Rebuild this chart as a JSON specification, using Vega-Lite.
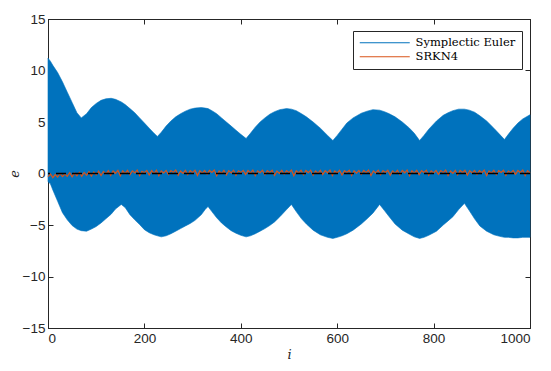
{
  "$schema": "https://vega.github.io/schema/vega-lite/v6.json",
  "width": 482,
  "height": 309,
  "autosize": {"type": "none"},
  "padding": {"left": 48, "top": 19, "right": 21, "bottom": 43},
  "background": "white",
  "config": {
    "view": {"stroke": "#262626", "strokeWidth": 1},
    "axis": {
      "grid": false,
      "domainColor": "#262626",
      "tickColor": "#262626",
      "labelColor": "#262626",
      "labelFont": "Liberation Sans",
      "labelFontSize": 13.5,
      "titleFont": "DejaVu Serif",
      "titleFontStyle": "italic",
      "titleFontWeight": "normal",
      "titleFontSize": 13,
      "titleColor": "#262626",
      "tickSize": -5,
      "labelPadding": 8,
      "format": "d"
    }
  },
  "datasets": {
    "euler": [
      {"i":0,"hi":11.2,"lo":-0.8,"s":"Symplectic Euler"},
      {"i":5,"hi":10.9,"lo":-1.0,"s":"Symplectic Euler"},
      {"i":10,"hi":10.5,"lo":-1.6,"s":"Symplectic Euler"},
      {"i":20,"hi":9.8,"lo":-2.7,"s":"Symplectic Euler"},
      {"i":30,"hi":8.9,"lo":-3.8,"s":"Symplectic Euler"},
      {"i":40,"hi":7.9,"lo":-4.5,"s":"Symplectic Euler"},
      {"i":50,"hi":6.9,"lo":-5.05,"s":"Symplectic Euler"},
      {"i":60,"hi":5.9,"lo":-5.4,"s":"Symplectic Euler"},
      {"i":69,"hi":5.4,"lo":-5.55,"s":"Symplectic Euler"},
      {"i":80,"hi":5.8,"lo":-5.6,"s":"Symplectic Euler"},
      {"i":90,"hi":6.4,"lo":-5.4,"s":"Symplectic Euler"},
      {"i":100,"hi":6.8,"lo":-5.15,"s":"Symplectic Euler"},
      {"i":110,"hi":7.1,"lo":-4.8,"s":"Symplectic Euler"},
      {"i":120,"hi":7.25,"lo":-4.4,"s":"Symplectic Euler"},
      {"i":131,"hi":7.3,"lo":-3.95,"s":"Symplectic Euler"},
      {"i":140,"hi":7.2,"lo":-3.45,"s":"Symplectic Euler"},
      {"i":152,"hi":6.95,"lo":-3.0,"s":"Symplectic Euler"},
      {"i":160,"hi":6.7,"lo":-3.3,"s":"Symplectic Euler"},
      {"i":170,"hi":6.3,"lo":-4.0,"s":"Symplectic Euler"},
      {"i":180,"hi":5.9,"lo":-4.5,"s":"Symplectic Euler"},
      {"i":190,"hi":5.4,"lo":-4.95,"s":"Symplectic Euler"},
      {"i":200,"hi":4.9,"lo":-5.45,"s":"Symplectic Euler"},
      {"i":210,"hi":4.4,"lo":-5.75,"s":"Symplectic Euler"},
      {"i":220,"hi":3.9,"lo":-5.95,"s":"Symplectic Euler"},
      {"i":227,"hi":3.6,"lo":-6.05,"s":"Symplectic Euler"},
      {"i":235,"hi":4.0,"lo":-6.15,"s":"Symplectic Euler"},
      {"i":245,"hi":4.6,"lo":-6.05,"s":"Symplectic Euler"},
      {"i":255,"hi":5.1,"lo":-5.85,"s":"Symplectic Euler"},
      {"i":265,"hi":5.5,"lo":-5.6,"s":"Symplectic Euler"},
      {"i":275,"hi":5.8,"lo":-5.35,"s":"Symplectic Euler"},
      {"i":285,"hi":6.05,"lo":-5.1,"s":"Symplectic Euler"},
      {"i":295,"hi":6.25,"lo":-4.85,"s":"Symplectic Euler"},
      {"i":305,"hi":6.35,"lo":-4.55,"s":"Symplectic Euler"},
      {"i":318,"hi":6.4,"lo":-4.0,"s":"Symplectic Euler"},
      {"i":326,"hi":6.35,"lo":-3.5,"s":"Symplectic Euler"},
      {"i":332,"hi":6.3,"lo":-3.2,"s":"Symplectic Euler"},
      {"i":340,"hi":6.1,"lo":-3.7,"s":"Symplectic Euler"},
      {"i":350,"hi":5.8,"lo":-4.3,"s":"Symplectic Euler"},
      {"i":360,"hi":5.4,"lo":-4.8,"s":"Symplectic Euler"},
      {"i":370,"hi":5.0,"lo":-5.2,"s":"Symplectic Euler"},
      {"i":380,"hi":4.6,"lo":-5.55,"s":"Symplectic Euler"},
      {"i":390,"hi":4.2,"lo":-5.8,"s":"Symplectic Euler"},
      {"i":400,"hi":3.8,"lo":-6.0,"s":"Symplectic Euler"},
      {"i":411,"hi":3.4,"lo":-6.15,"s":"Symplectic Euler"},
      {"i":420,"hi":3.9,"lo":-6.05,"s":"Symplectic Euler"},
      {"i":430,"hi":4.5,"lo":-5.85,"s":"Symplectic Euler"},
      {"i":440,"hi":5.0,"lo":-5.6,"s":"Symplectic Euler"},
      {"i":450,"hi":5.4,"lo":-5.35,"s":"Symplectic Euler"},
      {"i":460,"hi":5.75,"lo":-5.05,"s":"Symplectic Euler"},
      {"i":470,"hi":6.0,"lo":-4.7,"s":"Symplectic Euler"},
      {"i":481,"hi":6.2,"lo":-4.2,"s":"Symplectic Euler"},
      {"i":495,"hi":6.3,"lo":-3.5,"s":"Symplectic Euler"},
      {"i":505,"hi":6.25,"lo":-3.0,"s":"Symplectic Euler"},
      {"i":515,"hi":6.1,"lo":-3.7,"s":"Symplectic Euler"},
      {"i":526,"hi":5.8,"lo":-4.4,"s":"Symplectic Euler"},
      {"i":536,"hi":5.5,"lo":-4.9,"s":"Symplectic Euler"},
      {"i":550,"hi":5.0,"lo":-5.5,"s":"Symplectic Euler"},
      {"i":565,"hi":4.4,"lo":-5.95,"s":"Symplectic Euler"},
      {"i":580,"hi":3.7,"lo":-6.2,"s":"Symplectic Euler"},
      {"i":591,"hi":3.2,"lo":-6.3,"s":"Symplectic Euler"},
      {"i":600,"hi":3.7,"lo":-6.2,"s":"Symplectic Euler"},
      {"i":610,"hi":4.3,"lo":-6.05,"s":"Symplectic Euler"},
      {"i":620,"hi":4.9,"lo":-5.85,"s":"Symplectic Euler"},
      {"i":633,"hi":5.4,"lo":-5.5,"s":"Symplectic Euler"},
      {"i":650,"hi":5.85,"lo":-4.9,"s":"Symplectic Euler"},
      {"i":662,"hi":6.05,"lo":-4.4,"s":"Symplectic Euler"},
      {"i":674,"hi":6.2,"lo":-3.85,"s":"Symplectic Euler"},
      {"i":688,"hi":6.15,"lo":-3.0,"s":"Symplectic Euler"},
      {"i":698,"hi":6.0,"lo":-3.6,"s":"Symplectic Euler"},
      {"i":708,"hi":5.8,"lo":-4.2,"s":"Symplectic Euler"},
      {"i":720,"hi":5.5,"lo":-4.9,"s":"Symplectic Euler"},
      {"i":735,"hi":5.0,"lo":-5.5,"s":"Symplectic Euler"},
      {"i":750,"hi":4.4,"lo":-5.9,"s":"Symplectic Euler"},
      {"i":760,"hi":3.9,"lo":-6.15,"s":"Symplectic Euler"},
      {"i":771,"hi":3.2,"lo":-6.3,"s":"Symplectic Euler"},
      {"i":780,"hi":3.7,"lo":-6.2,"s":"Symplectic Euler"},
      {"i":790,"hi":4.3,"lo":-6.0,"s":"Symplectic Euler"},
      {"i":806,"hi":5.1,"lo":-5.6,"s":"Symplectic Euler"},
      {"i":820,"hi":5.65,"lo":-5.0,"s":"Symplectic Euler"},
      {"i":830,"hi":5.9,"lo":-4.6,"s":"Symplectic Euler"},
      {"i":840,"hi":6.1,"lo":-4.2,"s":"Symplectic Euler"},
      {"i":852,"hi":6.25,"lo":-3.5,"s":"Symplectic Euler"},
      {"i":864,"hi":6.25,"lo":-2.9,"s":"Symplectic Euler"},
      {"i":874,"hi":6.15,"lo":-3.6,"s":"Symplectic Euler"},
      {"i":885,"hi":5.95,"lo":-4.4,"s":"Symplectic Euler"},
      {"i":896,"hi":5.6,"lo":-5.1,"s":"Symplectic Euler"},
      {"i":910,"hi":5.1,"lo":-5.6,"s":"Symplectic Euler"},
      {"i":925,"hi":4.4,"lo":-5.95,"s":"Symplectic Euler"},
      {"i":937,"hi":3.8,"lo":-6.1,"s":"Symplectic Euler"},
      {"i":947,"hi":3.3,"lo":-6.2,"s":"Symplectic Euler"},
      {"i":955,"hi":3.8,"lo":-6.2,"s":"Symplectic Euler"},
      {"i":965,"hi":4.4,"lo":-6.25,"s":"Symplectic Euler"},
      {"i":975,"hi":4.9,"lo":-6.25,"s":"Symplectic Euler"},
      {"i":985,"hi":5.3,"lo":-6.2,"s":"Symplectic Euler"},
      {"i":1000,"hi":5.7,"lo":-6.2,"s":"Symplectic Euler"}
    ],
    "srkn": [
      {"i":0,"e":-0.30,"s":"SRKN4"},{"i":5,"e":-0.05,"s":"SRKN4"},{"i":10,"e":-0.40,"s":"SRKN4"},{"i":15,"e":-0.10,"s":"SRKN4"},
      {"i":20,"e":-0.35,"s":"SRKN4"},{"i":25,"e":0.02,"s":"SRKN4"},{"i":30,"e":-0.30,"s":"SRKN4"},{"i":35,"e":-0.05,"s":"SRKN4"},
      {"i":40,"e":-0.28,"s":"SRKN4"},{"i":45,"e":0.08,"s":"SRKN4"},{"i":50,"e":-0.32,"s":"SRKN4"},{"i":55,"e":0.05,"s":"SRKN4"},
      {"i":60,"e":-0.22,"s":"SRKN4"},{"i":65,"e":0.12,"s":"SRKN4"},{"i":70,"e":-0.28,"s":"SRKN4"},{"i":75,"e":0.10,"s":"SRKN4"},
      {"i":80,"e":-0.18,"s":"SRKN4"},{"i":85,"e":0.18,"s":"SRKN4"},{"i":90,"e":-0.25,"s":"SRKN4"},{"i":95,"e":0.15,"s":"SRKN4"},
      {"i":100,"e":-0.12,"s":"SRKN4"},{"i":105,"e":0.22,"s":"SRKN4"},{"i":110,"e":-0.20,"s":"SRKN4"},{"i":115,"e":0.20,"s":"SRKN4"},
      {"i":120,"e":-0.05,"s":"SRKN4"},{"i":125,"e":0.28,"s":"SRKN4"},{"i":130,"e":-0.18,"s":"SRKN4"},{"i":135,"e":0.24,"s":"SRKN4"},
      {"i":140,"e":0.02,"s":"SRKN4"},{"i":145,"e":0.30,"s":"SRKN4"},{"i":150,"e":-0.22,"s":"SRKN4"},{"i":155,"e":0.25,"s":"SRKN4"},
      {"i":160,"e":-0.02,"s":"SRKN4"},{"i":165,"e":0.30,"s":"SRKN4"},{"i":170,"e":-0.12,"s":"SRKN4"},{"i":175,"e":0.26,"s":"SRKN4"},
      {"i":180,"e":0.05,"s":"SRKN4"},{"i":185,"e":0.32,"s":"SRKN4"},{"i":190,"e":-0.20,"s":"SRKN4"},{"i":195,"e":0.22,"s":"SRKN4"},
      {"i":200,"e":0.08,"s":"SRKN4"},{"i":205,"e":0.30,"s":"SRKN4"},{"i":210,"e":-0.15,"s":"SRKN4"},{"i":215,"e":0.28,"s":"SRKN4"},
      {"i":220,"e":0.00,"s":"SRKN4"},{"i":225,"e":0.32,"s":"SRKN4"},{"i":230,"e":-0.22,"s":"SRKN4"},{"i":235,"e":0.25,"s":"SRKN4"},
      {"i":240,"e":0.06,"s":"SRKN4"},{"i":245,"e":0.30,"s":"SRKN4"},{"i":250,"e":-0.10,"s":"SRKN4"},{"i":255,"e":0.28,"s":"SRKN4"},
      {"i":260,"e":0.10,"s":"SRKN4"},{"i":265,"e":0.33,"s":"SRKN4"},{"i":270,"e":-0.18,"s":"SRKN4"},{"i":275,"e":0.24,"s":"SRKN4"},
      {"i":280,"e":0.02,"s":"SRKN4"},{"i":285,"e":0.31,"s":"SRKN4"},{"i":290,"e":-0.12,"s":"SRKN4"},{"i":295,"e":0.27,"s":"SRKN4"},
      {"i":300,"e":0.08,"s":"SRKN4"},{"i":305,"e":0.32,"s":"SRKN4"},{"i":310,"e":-0.20,"s":"SRKN4"},{"i":315,"e":0.26,"s":"SRKN4"},
      {"i":320,"e":0.04,"s":"SRKN4"},{"i":325,"e":0.30,"s":"SRKN4"},{"i":330,"e":-0.08,"s":"SRKN4"},{"i":335,"e":0.29,"s":"SRKN4"},
      {"i":340,"e":0.10,"s":"SRKN4"},{"i":345,"e":0.33,"s":"SRKN4"},{"i":350,"e":-0.22,"s":"SRKN4"},{"i":355,"e":0.24,"s":"SRKN4"},
      {"i":360,"e":0.00,"s":"SRKN4"},{"i":365,"e":0.31,"s":"SRKN4"},{"i":370,"e":-0.14,"s":"SRKN4"},{"i":375,"e":0.28,"s":"SRKN4"},
      {"i":380,"e":0.06,"s":"SRKN4"},{"i":385,"e":0.32,"s":"SRKN4"},{"i":390,"e":-0.18,"s":"SRKN4"},{"i":395,"e":0.26,"s":"SRKN4"},
      {"i":400,"e":0.09,"s":"SRKN4"},{"i":405,"e":0.30,"s":"SRKN4"},{"i":410,"e":-0.10,"s":"SRKN4"},{"i":415,"e":0.29,"s":"SRKN4"},
      {"i":420,"e":0.03,"s":"SRKN4"},{"i":425,"e":0.33,"s":"SRKN4"},{"i":430,"e":-0.21,"s":"SRKN4"},{"i":435,"e":0.25,"s":"SRKN4"},
      {"i":440,"e":0.07,"s":"SRKN4"},{"i":445,"e":0.31,"s":"SRKN4"},{"i":450,"e":-0.13,"s":"SRKN4"},{"i":455,"e":0.27,"s":"SRKN4"},
      {"i":460,"e":0.10,"s":"SRKN4"},{"i":465,"e":0.32,"s":"SRKN4"},{"i":470,"e":-0.19,"s":"SRKN4"},{"i":475,"e":0.24,"s":"SRKN4"},
      {"i":480,"e":0.01,"s":"SRKN4"},{"i":485,"e":0.30,"s":"SRKN4"},{"i":490,"e":-0.09,"s":"SRKN4"},{"i":495,"e":0.28,"s":"SRKN4"},
      {"i":500,"e":0.08,"s":"SRKN4"},{"i":505,"e":0.33,"s":"SRKN4"},{"i":510,"e":-0.22,"s":"SRKN4"},{"i":515,"e":0.26,"s":"SRKN4"},
      {"i":520,"e":0.05,"s":"SRKN4"},{"i":525,"e":0.31,"s":"SRKN4"},{"i":530,"e":-0.12,"s":"SRKN4"},{"i":535,"e":0.29,"s":"SRKN4"},
      {"i":540,"e":0.09,"s":"SRKN4"},{"i":545,"e":0.32,"s":"SRKN4"},{"i":550,"e":-0.17,"s":"SRKN4"},{"i":555,"e":0.25,"s":"SRKN4"},
      {"i":560,"e":0.02,"s":"SRKN4"},{"i":565,"e":0.30,"s":"SRKN4"},{"i":570,"e":-0.11,"s":"SRKN4"},{"i":575,"e":0.28,"s":"SRKN4"},
      {"i":580,"e":0.07,"s":"SRKN4"},{"i":585,"e":0.33,"s":"SRKN4"},{"i":590,"e":-0.20,"s":"SRKN4"},{"i":595,"e":0.24,"s":"SRKN4"},
      {"i":600,"e":0.06,"s":"SRKN4"},{"i":605,"e":0.31,"s":"SRKN4"},{"i":610,"e":-0.14,"s":"SRKN4"},{"i":615,"e":0.27,"s":"SRKN4"},
      {"i":620,"e":0.10,"s":"SRKN4"},{"i":625,"e":0.32,"s":"SRKN4"},{"i":630,"e":-0.18,"s":"SRKN4"},{"i":635,"e":0.26,"s":"SRKN4"},
      {"i":640,"e":0.03,"s":"SRKN4"},{"i":645,"e":0.30,"s":"SRKN4"},{"i":650,"e":-0.09,"s":"SRKN4"},{"i":655,"e":0.29,"s":"SRKN4"},
      {"i":660,"e":0.08,"s":"SRKN4"},{"i":665,"e":0.33,"s":"SRKN4"},{"i":670,"e":-0.21,"s":"SRKN4"},{"i":675,"e":0.25,"s":"SRKN4"},
      {"i":680,"e":0.05,"s":"SRKN4"},{"i":685,"e":0.31,"s":"SRKN4"},{"i":690,"e":-0.13,"s":"SRKN4"},{"i":695,"e":0.28,"s":"SRKN4"},
      {"i":700,"e":0.09,"s":"SRKN4"},{"i":705,"e":0.32,"s":"SRKN4"},{"i":710,"e":-0.16,"s":"SRKN4"},{"i":715,"e":0.24,"s":"SRKN4"},
      {"i":720,"e":0.01,"s":"SRKN4"},{"i":725,"e":0.30,"s":"SRKN4"},{"i":730,"e":-0.10,"s":"SRKN4"},{"i":735,"e":0.29,"s":"SRKN4"},
      {"i":740,"e":0.07,"s":"SRKN4"},{"i":745,"e":0.33,"s":"SRKN4"},{"i":750,"e":-0.22,"s":"SRKN4"},{"i":755,"e":0.26,"s":"SRKN4"},
      {"i":760,"e":0.04,"s":"SRKN4"},{"i":765,"e":0.31,"s":"SRKN4"},{"i":770,"e":-0.12,"s":"SRKN4"},{"i":775,"e":0.27,"s":"SRKN4"},
      {"i":780,"e":0.10,"s":"SRKN4"},{"i":785,"e":0.32,"s":"SRKN4"},{"i":790,"e":-0.19,"s":"SRKN4"},{"i":795,"e":0.25,"s":"SRKN4"},
      {"i":800,"e":0.06,"s":"SRKN4"},{"i":805,"e":0.30,"s":"SRKN4"},{"i":810,"e":-0.08,"s":"SRKN4"},{"i":815,"e":0.28,"s":"SRKN4"},
      {"i":820,"e":0.08,"s":"SRKN4"},{"i":825,"e":0.33,"s":"SRKN4"},{"i":830,"e":-0.20,"s":"SRKN4"},{"i":835,"e":0.24,"s":"SRKN4"},
      {"i":840,"e":0.02,"s":"SRKN4"},{"i":845,"e":0.31,"s":"SRKN4"},{"i":850,"e":-0.14,"s":"SRKN4"},{"i":855,"e":0.29,"s":"SRKN4"},
      {"i":860,"e":0.09,"s":"SRKN4"},{"i":865,"e":0.32,"s":"SRKN4"},{"i":870,"e":-0.17,"s":"SRKN4"},{"i":875,"e":0.26,"s":"SRKN4"},
      {"i":880,"e":0.05,"s":"SRKN4"},{"i":885,"e":0.30,"s":"SRKN4"},{"i":890,"e":-0.11,"s":"SRKN4"},{"i":895,"e":0.28,"s":"SRKN4"},
      {"i":900,"e":0.07,"s":"SRKN4"},{"i":905,"e":0.33,"s":"SRKN4"},{"i":910,"e":-0.21,"s":"SRKN4"},{"i":915,"e":0.25,"s":"SRKN4"},
      {"i":920,"e":0.03,"s":"SRKN4"},{"i":925,"e":0.31,"s":"SRKN4"},{"i":930,"e":-0.13,"s":"SRKN4"},{"i":935,"e":0.27,"s":"SRKN4"},
      {"i":940,"e":0.10,"s":"SRKN4"},{"i":945,"e":0.32,"s":"SRKN4"},{"i":950,"e":-0.18,"s":"SRKN4"},{"i":955,"e":0.24,"s":"SRKN4"},
      {"i":960,"e":0.06,"s":"SRKN4"},{"i":965,"e":0.30,"s":"SRKN4"},{"i":970,"e":-0.09,"s":"SRKN4"},{"i":975,"e":0.29,"s":"SRKN4"},
      {"i":980,"e":0.08,"s":"SRKN4"},{"i":985,"e":0.33,"s":"SRKN4"},{"i":990,"e":-0.20,"s":"SRKN4"},{"i":995,"e":0.26,"s":"SRKN4"},
      {"i":1000,"e":0.05,"s":"SRKN4"}
    ]
  },
  "resolve": {"axis": {"x": "independent", "y": "independent"}},
  "layer": [
    {
      "data": {"name": "euler"},
      "mark": {"type": "area", "fill": "#0072BD", "fillOpacity": 1, "strokeWidth": 0.6},
      "encoding": {
        "x": {"field": "i", "type": "quantitative", "scale": {"domain": [0, 1000], "nice": false},
              "axis": {"values": [0, 200, 400, 600, 800, 1000], "title": "i", "titlePadding": 4}},
        "y": {"field": "hi", "type": "quantitative", "scale": {"domain": [-15, 15], "nice": false},
              "axis": {"values": [-15, -10, -5, 0, 5, 10, 15], "title": "e", "titlePadding": 1}},
        "y2": {"field": "lo"},
        "stroke": {"field": "s", "type": "nominal",
                   "scale": {"domain": ["Symplectic Euler", "SRKN4"], "range": ["#0072BD", "#D95319"]},
                   "legend": {
                     "title": null, "orient": "none", "legendX": 305, "legendY": 12,
                     "symbolType": "M-5,0H5", "symbolSize": 100, "symbolStrokeWidth": 1,
                     "symbolOffset": 20, "labelOffset": 25,
                     "labelFont": "DejaVu Serif", "labelFontSize": 11.5, "labelColor": "#000000",
                     "strokeColor": "#262626", "fillColor": "white", "padding": 6, "rowPadding": 1,
                     "offset": 0
                   }}
      }
    },
    {
      "data": {"name": "srkn"},
      "mark": {"type": "line", "strokeWidth": 1.2},
      "encoding": {
        "x": {"field": "i", "type": "quantitative",
              "axis": {"orient": "top", "values": [0, 200, 400, 600, 800, 1000], "labels": false, "title": null}},
        "y": {"field": "e", "type": "quantitative",
              "axis": {"orient": "right", "values": [-15, -10, -5, 0, 5, 10, 15], "labels": false, "title": null}},
        "stroke": {"field": "s", "type": "nominal", "legend": null}
      }
    },
    {
      "data": {"values": [{"level": 0}]},
      "mark": {"type": "rule", "color": "#000000", "strokeWidth": 1.5, "strokeDash": [10, 6]},
      "encoding": {"y": {"field": "level", "type": "quantitative", "axis": null}}
    }
  ]
}
